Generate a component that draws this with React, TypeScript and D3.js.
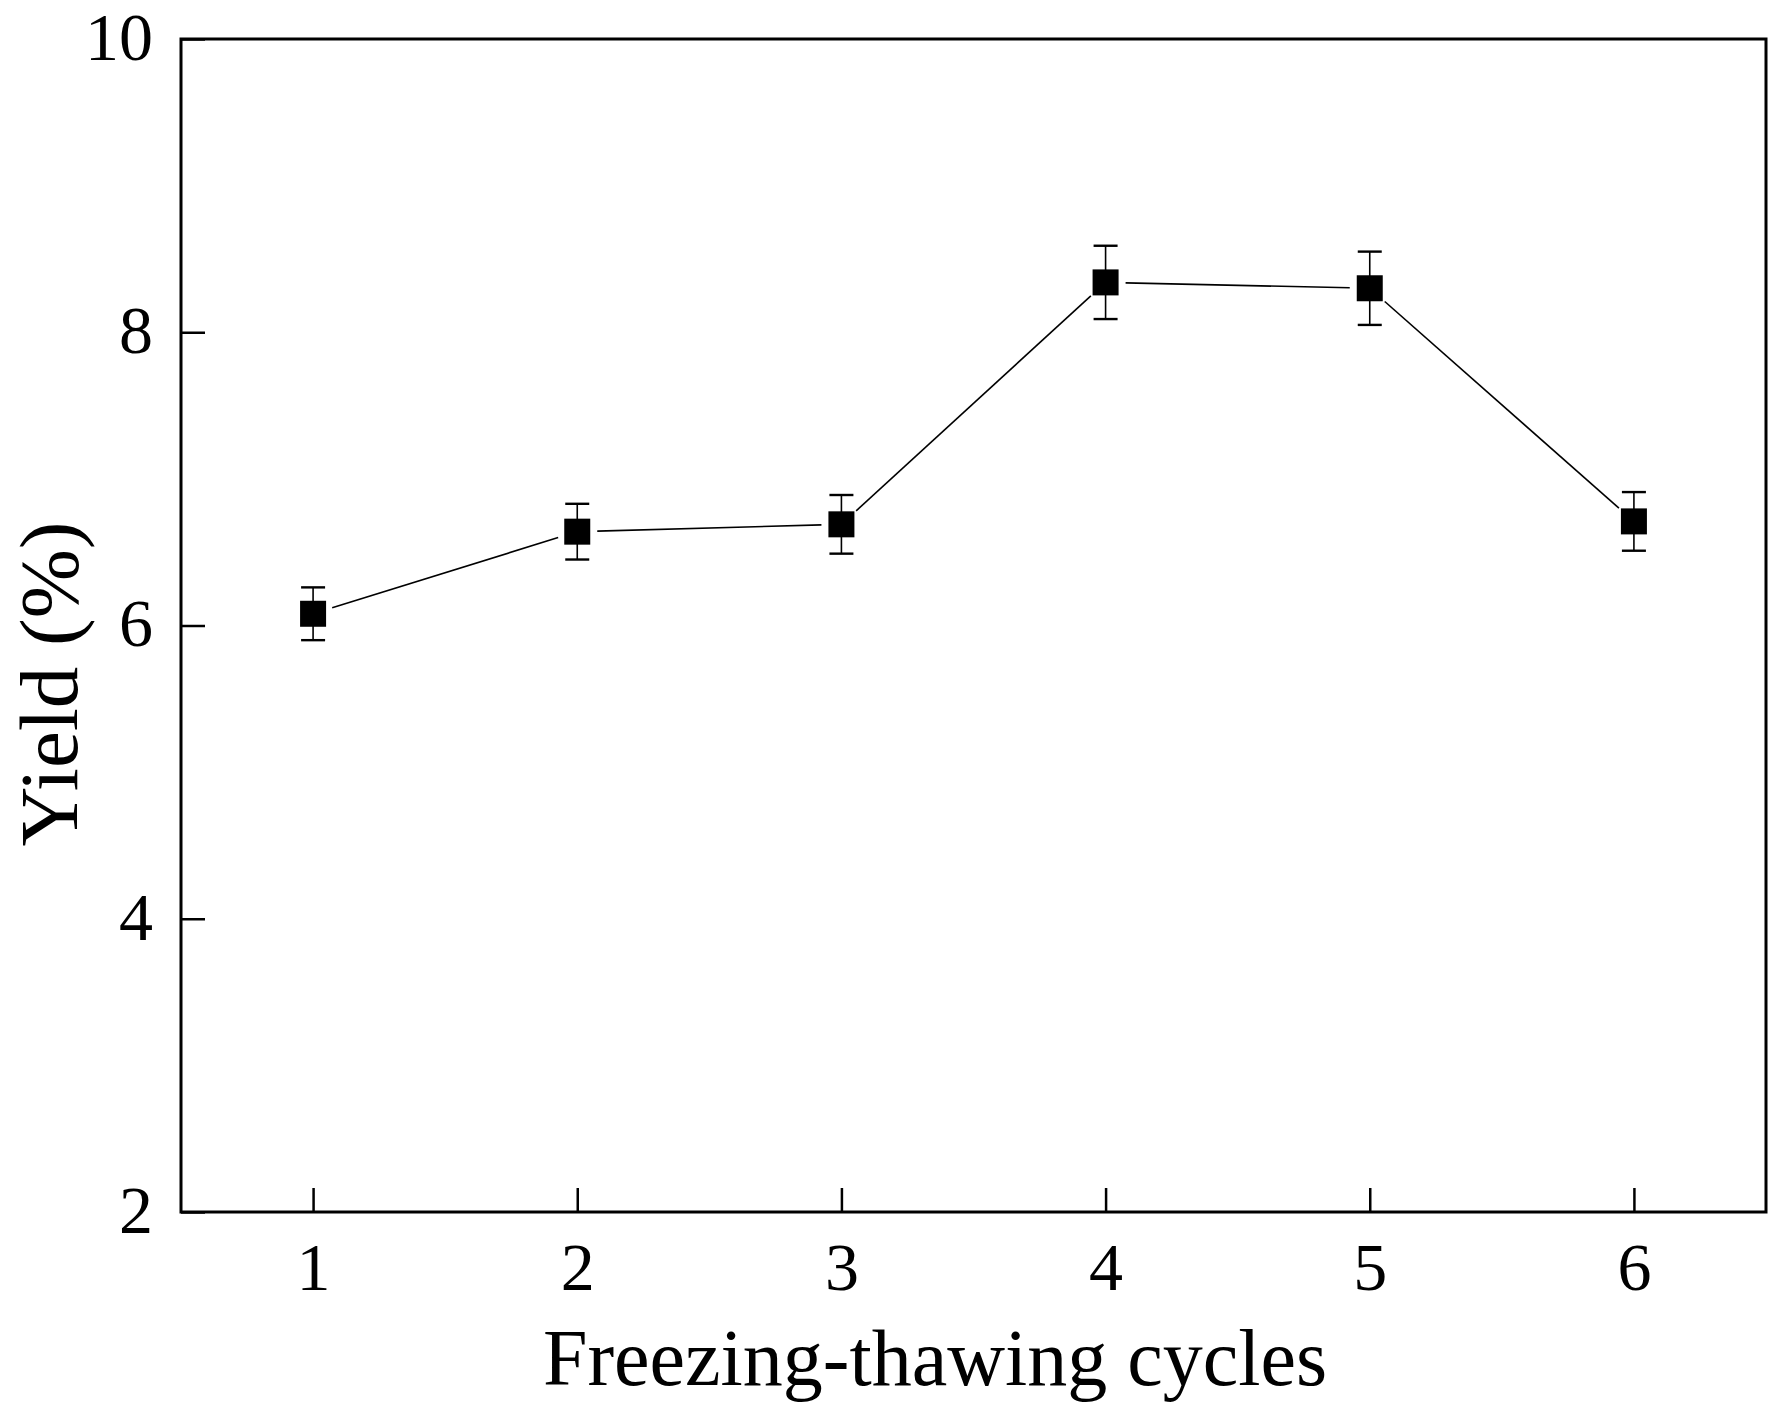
import React, { useEffect, useRef } from 'react';
import * as d3 from 'd3';

// Data
const cycles: number[] = [1, 2, 3, 4, 5, 6];
const yieldValues: number[] = [6.08, 6.64, 6.69, 8.34, 8.30, 6.71];
const yieldErrors: number[] = [0.18, 0.19, 0.2, 0.25, 0.25, 0.2];
const yTicks: number[] = [2, 4, 6, 8, 10];

interface Point {
  x: number;
  y: number;
  err: number;
}

const App: React.FC = () => {
  const svgRef = useRef<SVGSVGElement | null>(null);

  useEffect(() => {
    if (!svgRef.current) return;
    d3.select(svgRef.current).selectAll("*").remove();

    const width = 1782;
    const height = 1419;
    const margin = { top: 39, right: 16, bottom: 207, left: 181 };
    const innerWidth = width - margin.left - margin.right;
    const innerHeight = height - margin.top - margin.bottom;
    const font = "'Liberation Serif', 'Times New Roman', serif";

    const svg = d3.select(svgRef.current)
      .attr("width", width)
      .attr("height", height)
      .attr("viewBox", `0 0 ${width} ${height}`);

    svg.append("rect")
      .attr("width", width)
      .attr("height", height)
      .attr("fill", "#fff");

    const g = svg.append("g")
      .attr("transform", `translate(${margin.left},${margin.top})`);

    const data: Point[] = cycles.map((c, i) => ({ x: c, y: yieldValues[i], err: yieldErrors[i] }));

    const xScale = d3.scaleLinear().domain([0.5, 6.5]).range([0, innerWidth]);
    const yScale = d3.scaleLinear().domain([2, 10]).range([innerHeight, 0]);

    // x axis, ticks pointing inward
    const xAxis = g.append("g")
      .attr("transform", `translate(0,${innerHeight})`)
      .call(d3.axisBottom(xScale).tickValues(cycles).tickSize(-24).tickPadding(0).tickFormat(d3.format("d")));
    xAxis.select(".domain").remove();
    xAxis.selectAll(".tick line").attr("stroke", "#000").attr("stroke-width", 2.5);
    xAxis.selectAll(".tick text")
      .attr("font-family", font)
      .attr("font-size", 68)
      .attr("fill", "#000")
      .attr("dy", null)
      .attr("y", 78);

    // y axis
    const yAxis = g.append("g")
      .call(d3.axisLeft(yScale).tickValues(yTicks).tickSize(-24).tickPadding(0).tickFormat(d3.format("d")));
    yAxis.select(".domain").remove();
    yAxis.selectAll(".tick line").attr("stroke", "#000").attr("stroke-width", 2.5);
    yAxis.selectAll(".tick text")
      .attr("font-family", font)
      .attr("font-size", 68)
      .attr("fill", "#000")
      .attr("x", -28)
      .attr("dy", "0.3em");

    // frame
    g.append("rect")
      .attr("width", innerWidth)
      .attr("height", innerHeight)
      .attr("fill", "none")
      .attr("stroke", "#000")
      .attr("stroke-width", 3);

    // connecting segments, trimmed around the symbols
    const gap = 20;
    for (let i = 0; i < data.length - 1; i++) {
      const x1 = xScale(data[i].x), y1 = yScale(data[i].y);
      const x2 = xScale(data[i + 1].x), y2 = yScale(data[i + 1].y);
      const len = Math.hypot(x2 - x1, y2 - y1);
      const ux = (x2 - x1) / len, uy = (y2 - y1) / len;
      g.append("line")
        .attr("x1", x1 + ux * gap)
        .attr("y1", y1 + uy * gap)
        .attr("x2", x2 - ux * gap)
        .attr("y2", y2 - uy * gap)
        .attr("stroke", "#000")
        .attr("stroke-width", 1.6);
    }

    // error bars
    const capHalf = 12;
    const bars = g.selectAll(".err")
      .data(data)
      .enter()
      .append("g")
      .attr("class", "err");
    bars.append("line")
      .attr("x1", d => xScale(d.x))
      .attr("x2", d => xScale(d.x))
      .attr("y1", d => yScale(d.y + d.err))
      .attr("y2", d => yScale(d.y - d.err))
      .attr("stroke", "#000")
      .attr("stroke-width", 1.6);
    [1, -1].forEach(sign => {
      bars.append("line")
        .attr("x1", d => xScale(d.x) - capHalf)
        .attr("x2", d => xScale(d.x) + capHalf)
        .attr("y1", d => yScale(d.y + sign * d.err))
        .attr("y2", d => yScale(d.y + sign * d.err))
        .attr("stroke", "#000")
        .attr("stroke-width", 2.4);
    });

    // square symbols
    const size = 26;
    g.selectAll(".dot")
      .data(data)
      .enter()
      .append("rect")
      .attr("class", "dot")
      .attr("x", d => xScale(d.x) - size / 2)
      .attr("y", d => yScale(d.y) - size / 2)
      .attr("width", size)
      .attr("height", size)
      .attr("fill", "#000");

    // axis titles
    svg.append("text")
      .attr("x", 935)
      .attr("y", 1385)
      .attr("text-anchor", "middle")
      .attr("font-family", font)
      .attr("font-size", 80)
      .attr("fill", "#000")
      .text("Freezing-thawing cycles");

    svg.append("text")
      .attr("transform", `translate(77,684) rotate(-90)`)
      .attr("text-anchor", "middle")
      .attr("font-family", font)
      .attr("font-size", 83)
      .attr("fill", "#000")
      .text("Yield (%)");
  }, []);

  return (
    <svg ref={svgRef} style={{ position: "absolute", left: 0, top: 0, display: "block" }}></svg>
  );
};

export default App;
